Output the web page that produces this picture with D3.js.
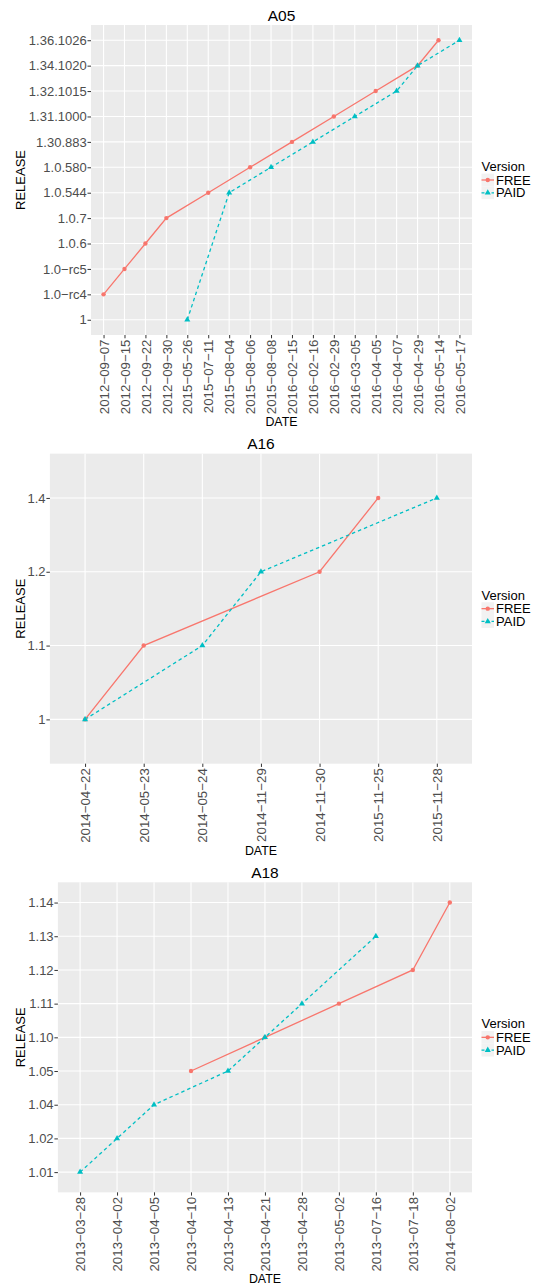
<!DOCTYPE html>
<html>
<head>
<meta charset="utf-8">
<script src="https://cdnjs.cloudflare.com/ajax/libs/d3/7.8.4/d3.min.js"></script>
<style>
  body { margin: 0; background: #fff; }
  svg text { font-family: "Liberation Sans", Arial, sans-serif; }
</style>
</head>
<body>
<svg id="chart"></svg>
<script>
// ---- données ----
const versions = ["FREE", "PAID"];
const versionColors = ["#F8766D", "#00BFC4"];

// A05
const a05Dates = ["2012-09-07", "2012-09-15", "2012-09-22", "2012-09-30", "2015-05-26", "2015-07-11",
  "2015-08-04", "2015-08-06", "2015-08-08", "2016-02-15", "2016-02-16", "2016-02-29",
  "2016-03-05", "2016-04-05", "2016-04-07", "2016-04-29", "2016-05-14", "2016-05-17"];
const a05Releases = ["1", "1.0-rc4", "1.0-rc5", "1.0.6", "1.0.7", "1.0.544", "1.0.580",
  "1.30.883", "1.31.1000", "1.32.1015", "1.34.1020", "1.36.1026"];
const a05Free = [["2012-09-07", "1.0-rc4"], ["2012-09-15", "1.0-rc5"], ["2012-09-22", "1.0.6"],
  ["2012-09-30", "1.0.7"], ["2015-07-11", "1.0.544"], ["2015-08-06", "1.0.580"],
  ["2016-02-15", "1.30.883"], ["2016-02-29", "1.31.1000"], ["2016-04-05", "1.32.1015"],
  ["2016-04-29", "1.34.1020"], ["2016-05-14", "1.36.1026"]];
const a05Paid = [["2015-05-26", "1"], ["2015-08-04", "1.0.544"], ["2015-08-08", "1.0.580"],
  ["2016-02-16", "1.30.883"], ["2016-03-05", "1.31.1000"], ["2016-04-07", "1.32.1015"],
  ["2016-04-29", "1.34.1020"], ["2016-05-17", "1.36.1026"]];

// A16
const a16Dates = ["2014-04-22", "2014-05-23", "2014-05-24", "2014-11-29", "2014-11-30", "2015-11-25", "2015-11-28"];
const a16Releases = ["1", "1.1", "1.2", "1.4"];
const a16Free = [["2014-04-22", "1"], ["2014-05-23", "1.1"], ["2014-11-30", "1.2"], ["2015-11-25", "1.4"]];
const a16Paid = [["2014-04-22", "1"], ["2014-05-24", "1.1"], ["2014-11-29", "1.2"], ["2015-11-28", "1.4"]];

// A18
const a18Dates = ["2013-03-28", "2013-04-02", "2013-04-05", "2013-04-10", "2013-04-13", "2013-04-21",
  "2013-04-28", "2013-05-02", "2013-07-16", "2013-07-18", "2014-08-02"];
const a18Releases = ["1.01", "1.02", "1.04", "1.05", "1.10", "1.11", "1.12", "1.13", "1.14"];
const a18Free = [["2013-04-10", "1.05"], ["2013-04-21", "1.10"], ["2013-05-02", "1.11"],
  ["2013-07-18", "1.12"], ["2014-08-02", "1.14"]];
const a18Paid = [["2013-03-28", "1.01"], ["2013-04-02", "1.02"], ["2013-04-05", "1.04"],
  ["2013-04-13", "1.05"], ["2013-04-21", "1.10"], ["2013-04-28", "1.11"], ["2013-07-16", "1.13"]];

// ---- mise en page ----
const width = 540, height = 1286;
const panelHeight = height / 3;
const plotTop = 25, plotHeight = 310, plotRight = 472;
const legendX = 481.5;
const minus = (s) => s.replace(/-/g, "\u2212");

const svg = d3.select("#chart").attr("width", width).attr("height", height);

const panels = [
  { title: "A05", left: 91, dates: a05Dates, releases: a05Releases, series: [a05Free, a05Paid] },
  { title: "A16", left: 49.9, dates: a16Dates, releases: a16Releases, series: [a16Free, a16Paid] },
  { title: "A18", left: 57.9, dates: a18Dates, releases: a18Releases, series: [a18Free, a18Paid] },
];

const drawPanel = (p, i) => {
  const g = svg.append("g").attr("transform", `translate(0,${i * panelHeight})`);
  const bottom = plotTop + plotHeight;
  const midX = (p.left + plotRight) / 2;
  const midY = plotTop + plotHeight / 2;

  // Echelles discrètes (expansion 0.6 comme ggplot)
  const x = d3.scalePoint().domain(p.dates).range([p.left, plotRight]).padding(0.6);
  const y = d3.scalePoint().domain(p.releases).range([bottom, plotTop]).padding(0.6);

  // fond + grille
  g.append("rect")
    .attr("x", p.left).attr("y", plotTop)
    .attr("width", plotRight - p.left).attr("height", plotHeight)
    .attr("fill", "#EBEBEB");

  g.selectAll(".vgrid").data(p.dates).join("line")
    .attr("x1", (d) => x(d)).attr("x2", (d) => x(d))
    .attr("y1", plotTop).attr("y2", bottom)
    .attr("stroke", "#fff").attr("stroke-width", 1.1);

  g.selectAll(".hgrid").data(p.releases).join("line")
    .attr("x1", p.left).attr("x2", plotRight)
    .attr("y1", (d) => y(d)).attr("y2", (d) => y(d))
    .attr("stroke", "#fff").attr("stroke-width", 1.1);

  // Axe Y
  const yAxis = g.append("g")
    .attr("transform", `translate(${p.left},0)`)
    .call(d3.axisLeft(y).tickSize(3.5).tickPadding(0.8).tickFormat(minus));
  yAxis.select(".domain").remove();
  yAxis.selectAll("line").attr("stroke", "#333");
  yAxis.selectAll("text").attr("fill", "#4D4D4D").attr("font-size", "13px");

  // Axe X (étiquettes verticales)
  const xAxis = g.append("g")
    .attr("transform", `translate(0,${bottom})`)
    .call(d3.axisBottom(x).tickSize(3.3).tickFormat(minus));
  xAxis.select(".domain").remove();
  xAxis.selectAll("line").attr("stroke", "#333");
  xAxis.selectAll("text")
    .attr("fill", "#4D4D4D").attr("font-size", "13.3px")
    .attr("transform", "rotate(-90)")
    .attr("text-anchor", "end")
    .attr("x", -4.5).attr("y", 0).attr("dy", "0.35em");

  // courbes
  const line = d3.line().x((d) => x(d[0])).y((d) => y(d[1]));
  p.series.forEach((s, k) => {
    g.append("path")
      .datum(s)
      .attr("fill", "none")
      .attr("stroke", versionColors[k])
      .attr("stroke-width", 1.3)
      .attr("stroke-dasharray", k === 1 ? "3.5,3" : null)
      .attr("d", line);
  });

  // points
  g.selectAll(".pt-free").data(p.series[0]).join("circle")
    .attr("cx", (d) => x(d[0])).attr("cy", (d) => y(d[1]))
    .attr("r", 2.2).attr("fill", versionColors[0]);
  g.selectAll(".pt-paid").data(p.series[1]).join("path")
    .attr("transform", (d) => `translate(${x(d[0])},${y(d[1])})`)
    .attr("d", d3.symbol(d3.symbolTriangle, 16))
    .attr("fill", versionColors[1]);

  // titres
  g.append("text").attr("x", midX).attr("y", 20.5)
    .attr("text-anchor", "middle").attr("font-size", "15.5px").attr("fill", "#000")
    .text(p.title);
  g.append("text").attr("x", midX).attr("y", 426)
    .attr("text-anchor", "middle").attr("font-size", "12.4px").attr("fill", "#000")
    .text("DATE");
  g.append("text")
    .attr("transform", `translate(20.7,${midY}) rotate(-90)`)
    .attr("text-anchor", "middle").attr("dy", "0.35em")
    .attr("font-size", "13px").attr("fill", "#000")
    .text("RELEASE");

  // légende
  const legend = g.append("g").attr("transform", `translate(${legendX},${midY})`);
  legend.append("text").attr("x", 0).attr("y", -13.6).attr("dy", "0.35em")
    .attr("font-size", "13px").text("Version");
  versions.forEach((v, k) => {
    const ky = k * 12.8;
    legend.append("rect").attr("x", 0).attr("y", ky - 6.4)
      .attr("width", 12.5).attr("height", 12.8).attr("fill", "#F2F2F2");
    legend.append("line").attr("x1", 0).attr("x2", 12.5).attr("y1", ky).attr("y2", ky)
      .attr("stroke", versionColors[k]).attr("stroke-width", 1.3)
      .attr("stroke-dasharray", k === 1 ? "3,2" : null);
    if (k === 0) {
      legend.append("circle").attr("cx", 6.25).attr("cy", ky).attr("r", 2.2).attr("fill", versionColors[k]);
    } else {
      legend.append("path").attr("transform", `translate(6.25,${ky})`)
        .attr("d", d3.symbol(d3.symbolTriangle, 16)).attr("fill", versionColors[k]);
    }
    legend.append("text").attr("x", 14.5).attr("y", ky).attr("dy", "0.35em")
      .attr("font-size", "13px").text(v);
  });
};

panels.forEach(drawPanel);
</script>
</body>
</html>
